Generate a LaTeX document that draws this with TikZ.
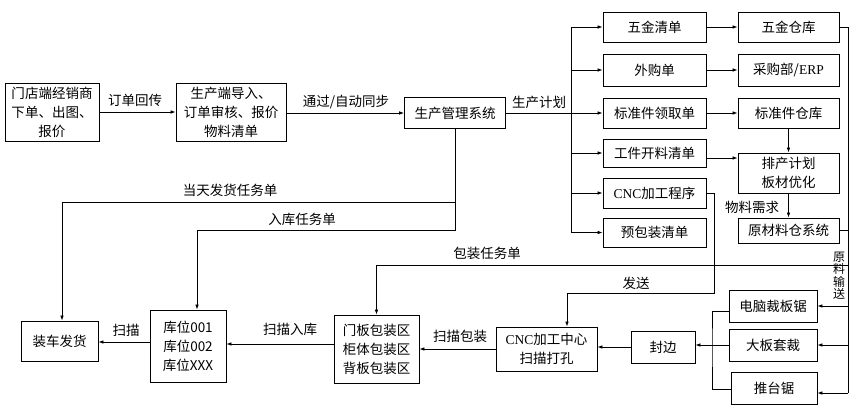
\documentclass[tikz,border=0pt]{standalone}
\usepackage{fontspec}
\setmainfont{Noto Sans CJK SC}
\newfontfamily\lat{Liberation Serif}
\usetikzlibrary{arrows.meta,calc}
\tikzset{
  every node/.style={font=\fontsize{13.5}{19}\selectfont, inner sep=1pt},
  box/.style={draw, line width=0.9pt, align=center},
  conn/.style={line width=0.7pt},
  arr/.style={conn, -{Latex[length=5pt,width=3.6pt]}},
  lbl/.style={align=center}
}
\begin{document}
\begin{tikzpicture}[x=1pt,y=-1pt]
\useasboundingbox (0,0) rectangle (859,413);
% ---- boxes
\node[box, minimum width=94, minimum height=58] (mendian) at (52,112) {门店端经销商\\下单、出图、\\报价};
\node[box, minimum width=110, minimum height=58] (scd) at (231,112) {生产端导入、\\订单审核、报价\\物料清单};
\node[box, minimum width=101, minimum height=31] (guanli) at (455,113) {生产管理系统};
\node[box, minimum width=103, minimum height=30] (wujin) at (654.5,27) {五金清单};
\node[box, minimum width=103, minimum height=32] (waigou) at (654.5,70) {外购单};
\node[box, minimum width=103, minimum height=30] (biaozhun) at (654.5,113) {标准件领取单};
\node[box, minimum width=103, minimum height=28] (gongjian) at (654.5,153) {工件开料清单};
\node[box, minimum width=103, minimum height=30] (cncprog) at (654.5,193) {{\lat CNC}加工程序};
\node[box, minimum width=103, minimum height=29] (yubao) at (654.5,232.5) {预包装清单};
\node[box, minimum width=101, minimum height=30] (wujinck) at (788.5,27) {五金仓库};
\node[box, minimum width=101, minimum height=32] (caigou) at (788.5,70) {采购部/{\lat ERP}};
\node[box, minimum width=101, minimum height=30] (bzck) at (788.5,113) {标准件仓库};
\node[box, minimum width=101, minimum height=40] (paichan) at (788.5,173) {排产计划\\板材优化};
\node[box, minimum width=101, minimum height=25] (ycl) at (788.5,230.5) {原材料仓系统};
\node[box, minimum width=88, minimum height=32] (diannao) at (773,306) {电脑裁板锯};
\node[box, minimum width=88, minimum height=32] (daban) at (773,345) {大板套裁};
\node[box, minimum width=86, minimum height=32] (tuitai) at (774,388) {推台锯};
\node[box, minimum width=64, minimum height=32] (fengbian) at (663,347) {封边};
\node[box, minimum width=101, minimum height=44] (cnczx) at (546.5,349) {{\lat CNC}加工中心\\扫描打孔};
\node[box, minimum width=85, minimum height=68] (baoz) at (376.5,349) {门板包装区\\柜体包装区\\背板包装区};
\node[box, minimum width=76, minimum height=72] (kuwei) at (188,346) {库位001\\库位002\\库位XXX};
\node[box, minimum width=77, minimum height=40] (zhuangche) at (59.5,341) {装车发货};
% ---- top row
\draw[arr] (mendian.east) -- (scd.west);
\node[lbl] (l1) at (135,100) {订单回传};
\draw[arr] (scd.east |- guanli.west) -- (guanli.west);
\node[lbl] (l2) at (346,102) {通过/自动同步};
\coordinate (trunk) at (571,113);
\draw[conn] (guanli.east) -- (trunk);
\node[lbl] (l3) at (539,102) {生产计划};
\draw[conn] (trunk |- wujin.west) -- (trunk |- yubao.west);
\foreach \n in {wujin,waigou,biaozhun,gongjian,cncprog,yubao}
  \draw[arr] (trunk |- \n.west) -- (\n.west);
% ---- right part
\draw[arr] (wujin.east) -- (wujinck.west);
\draw[arr] (waigou.east) -- (caigou.west);
\draw[arr] (biaozhun.east) -- (bzck.west);
\coordinate (gj) at ($(gongjian.east)+(0,5)$);
\draw[arr] (gj) -- (gj -| paichan.west);
\draw[arr] (bzck.south) -- (paichan.north);
\draw[arr] (paichan.south) -- (ycl.north);
\node[lbl] (l4) at (752,207) {物料需求};
\coordinate (R) at (848,27);
\coordinate (Rb) at ($(tuitai.east)+(0,5)$);
\draw[conn] (wujinck.east) -- (R) -- (R |- Rb);
\draw[conn] (ycl.east) -- (R |- ycl.east);
\draw[arr] (R |- diannao.east) -- (diannao.east);
\draw[arr] (R |- daban.east) -- (daban.east);
\draw[arr] (R |- Rb) -- (Rb);
\node[lbl, font=\fontsize{12}{12.5}\selectfont] (l5) at (839,276) {原\\料\\输\\送};
% packaging task
\coordinate (pk) at (848,265);
\draw[arr] (pk) -- (pk -| baoz.north) -- (baoz.north);
\node[lbl] (l6) at (487,253) {包装任务单};
% send
\coordinate (s1) at (714,293);
\coordinate (s2) at (567,293);
\draw[arr] (cncprog.east) -| (s1) -- (s2) -- (s2 |- cnczx.north);
\node[lbl] (l7) at (636,283) {发送};
% saws
\draw[arr] (daban.west) -- (daban.west -| fengbian.east);
\coordinate (bx) at (712,345);
\draw[conn] ([yshift=-5pt]diannao.west) -| (bx) |- ([yshift=-1pt]tuitai.west);
\draw[arr] (fengbian.west) -- (fengbian.west -| cnczx.east);
% bottom row
\draw[arr] (cnczx.west) -- (cnczx.west -| baoz.east);
\node[lbl] (l8) at (460,336) {扫描包装};
\draw[arr] (baoz.west |- 0,344) -- (kuwei.east |- 0,344);
\node[lbl] (l9) at (290,329) {扫描入库};
\draw[arr] (kuwei.west |- 0,342) -- (zhuangche.east |- 0,342);
\node[lbl] (l10) at (126,330) {扫描};
% tasks from management
\coordinate (rk) at (197,230);
\coordinate (fh) at (62,202);
\draw[arr] (guanli.south) |- (rk) -- (rk |- kuwei.north);
\draw[arr] (guanli.south |- fh) -- (fh) -- (fh |- zhuangche.north);
\node[lbl] (l11) at (230,190) {当天发货任务单};
\node[lbl] (l12) at (302,219) {入库任务单};
\end{tikzpicture}
\end{document}
